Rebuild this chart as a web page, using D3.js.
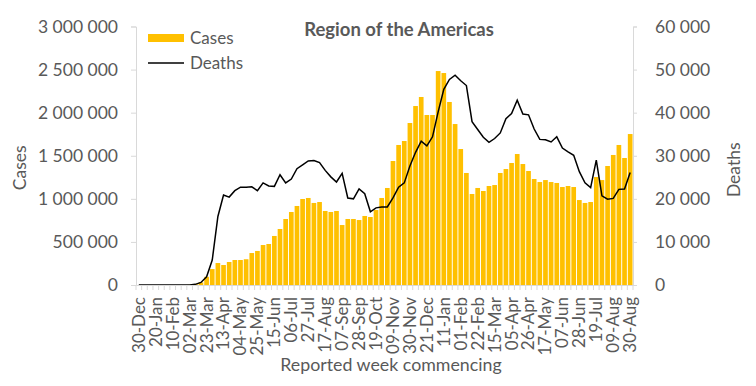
<!DOCTYPE html>
<html>
<head>
<meta charset="utf-8">
<script src="https://cdn.jsdelivr.net/npm/d3@7"></script>
<style>
  body { margin: 0; background: #fff; }
  text { font-family: Lato, "Open Sans", sans-serif; fill: #595959; }
</style>
</head>
<body>
<div id="chart"></div>
<script>
// weekly reported numbers, 30-Dec-2019 .. 30-Aug-2021
var cases = [
  0, 0, 0, 0, 0, 0, 0, 0, 0, 2000,
  12000, 30000, 95000, 185000, 255000, 232000, 267000, 290000, 290000, 299000,
  371000, 395000, 464000, 476000, 569000, 650000, 766000, 847000, 917000, 998000,
  1010000, 952000, 963000, 859000, 847000, 859000, 696000, 766000, 766000, 754000,
  801000, 789000, 870000, 1010000, 1126000, 1439000, 1625000, 1671000, 1880000, 2077000,
  2182000, 1973000, 1973000, 2483000, 2460000, 2124000, 1868000, 1578000, 1300000, 1056000,
  1126000, 1091000, 1149000, 1160000, 1300000, 1346000, 1416000, 1520000, 1404000, 1323000,
  1230000, 1195000, 1218000, 1195000, 1184000, 1137000, 1149000, 1137000, 986000, 952000,
  963000, 1253000, 1218000, 1381000, 1509000, 1625000, 1474000, 1752000
];
var deaths = [
  0, 0, 0, 0, 0, 0, 0, 0, 0, 20,
  150, 600, 1900, 5800, 15900, 20900, 20400, 21900, 22700, 22700,
  22800, 21900, 23700, 23000, 22900, 25600, 23700, 24600, 27000, 27900,
  28800, 28900, 28400, 26600, 25100, 23900, 25900, 20200, 20000, 22300,
  21200, 17000, 17900, 18100, 18100, 20200, 22700, 23700, 27600, 30800,
  33400, 32300, 34400, 40200, 45400, 47700, 48700, 47400, 46300, 37900,
  36100, 34300, 33100, 34000, 35300, 38600, 39800, 42900, 39700, 39500,
  36200, 33800, 33700, 33200, 34400, 31800, 30900, 30100, 26300, 23700,
  22600, 29000, 20700, 19900, 20100, 22200, 22300, 26100
];
// every third week is labelled
var tickLabels = [
  "30-Dec", "20-Jan", "10-Feb", "02-Mar", "23-Mar", "13-Apr", "04-May", "25-May",
  "15-Jun", "06-Jul", "27-Jul", "17-Aug", "07-Sep", "28-Sep", "19-Oct", "09-Nov",
  "30-Nov", "21-Dec", "11-Jan", "01-Feb", "22-Feb", "15-Mar", "05-Apr", "26-Apr",
  "17-May", "07-Jun", "28-Jun", "19-Jul", "09-Aug", "30-Aug"
];
var casesTicks = [0, 500000, 1000000, 1500000, 2000000, 2500000, 3000000];
var deathsTicks = [0, 10000, 20000, 30000, 40000, 50000, 60000];

var W = 756, H = 386;
var margin = {top: 26.5, right: 123, bottom: 101, left: 136};
var width = W - margin.left - margin.right,
    height = H - margin.top - margin.bottom;

var fmt = function(v) { return d3.format(",")(v).replace(/,/g, " "); };

var svg = d3.select("#chart").append("svg")
    .attr("width", W)
    .attr("height", H)
  .append("g")
    .attr("transform", "translate(" + margin.left + "," + margin.top + ")");

var weeks = d3.range(cases.length);

var x = d3.scaleBand()
  .domain(weeks)
  .range([0, width])
  .paddingInner(0.17)
  .paddingOuter(0.085);

var y = d3.scaleLinear().domain([0, 3000000]).range([height, 0]);
var y2 = d3.scaleLinear().domain([0, 60000]).range([height, 0]);

// bars
svg.append("g")
  .selectAll("rect")
  .data(weeks)
  .enter()
  .append("rect")
    .attr("x", function(i) { return x(i); })
    .attr("y", function(i) { return y(cases[i]); })
    .attr("width", x.bandwidth())
    .attr("height", function(i) { return height - y(cases[i]); })
    .attr("fill", "#FFC000");

// deaths line
var line = d3.line()
  .x(function(i) { return x(i) + x.bandwidth() / 2; })
  .y(function(i) { return y2(deaths[i]); });

svg.append("path")
  .datum(weeks)
  .attr("d", line)
  .attr("fill", "none")
  .attr("stroke", "#000")
  .attr("stroke-width", 1.5);

// left axis
var axL = svg.append("g")
  .call(d3.axisLeft(y).tickValues(casesTicks).tickFormat(fmt).tickSize(5).tickPadding(13));
axL.selectAll("text").style("font-size", "17.5px");

// right axis
var axR = svg.append("g")
  .attr("transform", "translate(" + width + ",0)")
  .call(d3.axisRight(y2).tickValues(deathsTicks).tickFormat(fmt).tickSize(4).tickPadding(18));
axR.selectAll("text").style("font-size", "17.5px");

// bottom axis: tick at every week boundary, label every third week
var xb = svg.append("g")
  .attr("transform", "translate(0," + height + ")")
  .call(d3.axisBottom(x).tickSize(0).tickFormat(function(i) {
    return i % 3 == 0 ? tickLabels[i / 3] : "";
  }));
xb.selectAll("text")
  .attr("transform", "rotate(-90)")
  .attr("x", -12)
  .attr("y", 0)
  .attr("dy", "0.35em")
  .style("text-anchor", "end")
  .style("font-size", "17px");

svg.append("g")
  .selectAll("line")
  .data(d3.range(cases.length + 1))
  .enter()
  .append("line")
    .attr("x1", function(i) { return i * width / cases.length; })
    .attr("x2", function(i) { return i * width / cases.length; })
    .attr("y1", height)
    .attr("y2", height + 5)
    .attr("stroke", "#d9d9d9");

svg.selectAll(".domain").attr("stroke", "#d9d9d9");
svg.selectAll(".tick line").attr("stroke", "#d9d9d9");

// titles
svg.append("text")
  .attr("x", 399 - margin.left)
  .attr("y", 36 - margin.top)
  .attr("text-anchor", "middle")
  .style("font-size", "18.5px")
  .style("font-weight", "bold")
  .text("Region of the Americas");

svg.append("text")
  .attr("transform", "translate(" + (26 - margin.left) + "," + (height / 2 + 12) + ") rotate(-90)")
  .attr("text-anchor", "middle")
  .style("font-size", "17.5px")
  .text("Cases");

svg.append("text")
  .attr("transform", "translate(" + (740 - margin.left) + "," + (height / 2 + 14) + ") rotate(-90)")
  .attr("text-anchor", "middle")
  .style("font-size", "17.5px")
  .text("Deaths");

svg.append("text")
  .attr("x", 391 - margin.left)
  .attr("y", 371 - margin.top)
  .attr("text-anchor", "middle")
  .style("font-size", "17.8px")
  .text("Reported week commencing");

// legend
var lg = svg.append("g").attr("transform", "translate(" + (148 - margin.left) + "," + (38 - margin.top) + ")");
lg.append("rect").attr("x", 0).attr("y", -4).attr("width", 36).attr("height", 8).attr("fill", "#FFC000");
lg.append("text").attr("x", 42).attr("y", 0).attr("dy", "0.35em").style("font-size", "17px").text("Cases");
lg.append("line").attr("x1", 0).attr("x2", 36).attr("y1", 25).attr("y2", 25).attr("stroke", "#000").attr("stroke-width", 1.5);
lg.append("text").attr("x", 42).attr("y", 25).attr("dy", "0.35em").style("font-size", "17px").text("Deaths");
</script>
</body>
</html>
